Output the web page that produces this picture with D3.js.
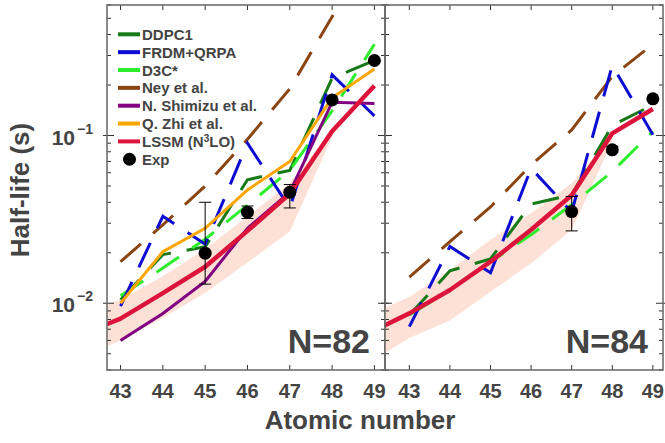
<!DOCTYPE html>
<html>
<head>
<meta charset="utf-8">
<script src="https://cdn.jsdelivr.net/npm/d3@7"></script>
<style>
  body { margin: 0; background: #fff; }
  text { font-family: "Liberation Sans", Arial, Helvetica, sans-serif; font-weight: bold; fill: #444; }
</style>
</head>
<body>
<div id="svg-container"></div>
<script>
//the data
var atomicNumbers = [43, 44, 45, 46, 47, 48, 49];
var lssmNumbers = [42, 43, 44, 45, 46, 47, 48, 49];
var bandNumbers = [42, 43, 44, 45, 46, 47, 48];
var xTickValues = [43, 44, 45, 46, 47, 48, 49];
var yTickValues = [0.01, 0.1];
var yTickExponents = ["\u22122", "\u22121"];
var panelLabels = ["N=82", "N=84"];
var legendNames = ["DDPC1", "FRDM+QRPA", "D3C*", "Ney et al.", "N. Shimizu et al.", "Q. Zhi et al.", "LSSM (N", "Exp"];

//N=82
var ddpc1_82 = [0.0105, 0.0195, 0.0217, 0.0545, 0.062, 0.22, 0.28];
var frdm_82 = [0.0096, 0.033, 0.0225, 0.09, 0.037, 0.23, 0.131];
var d3c_82 = [0.0111, 0.0162, 0.0241, 0.0385, 0.062, 0.14, 0.35];
var ney_82 = [0.0177, 0.0293, 0.05, 0.095, 0.19, 0.51, 1.3];
var shimizu_82 = [0.006, 0.0087, 0.0135, 0.028, 0.046, 0.158, 0.155];
var zhi_82 = [0.01, 0.0203, 0.028, 0.0474, 0.07, 0.168, 0.249];
var lssm_82 = [0.0064, 0.0081, 0.0115, 0.0165, 0.027, 0.045, 0.106, 0.198];
var bandLow_82 = [0.0047, 0.006, 0.0082, 0.0115, 0.0175, 0.0268, 0.098];
var bandHigh_82 = [0.0088, 0.0105, 0.0145, 0.021, 0.033, 0.052, 0.108];
var expZ_82 = [45, 46, 47, 48, 49];
var exp_82 = [0.0199, 0.0349, 0.0459, 0.163, 0.28];
var expLow_82 = [0.013, 0.032, 0.037, 0.163, 0.28];
var expHigh_82 = [0.04, 0.038, 0.051, 0.163, 0.28];

//N=84
var ddpc1_84 = [0.0085, 0.0156, 0.0184, 0.039, 0.0443, 0.115, 0.152];
var frdm_84 = [0.00725, 0.0218, 0.0152, 0.0638, 0.035, 0.262, 0.101];
var d3c_84 = [0.0085, 0.012, 0.0177, 0.0256, 0.0387, 0.061, 0.106];
var ney_84 = [0.0143, 0.0233, 0.0375, 0.0668, 0.108, 0.225, 0.35];
var lssm_84 = [0.00664, 0.0087, 0.012, 0.0177, 0.0274, 0.044, 0.103, 0.144];
var bandLow_84 = [0.0044, 0.0062, 0.0079, 0.0117, 0.0173, 0.0274, 0.092];
var bandHigh_84 = [0.0085, 0.0109, 0.0158, 0.0239, 0.0344, 0.052, 0.1];
var expZ_84 = [47, 48, 49];
var exp_84 = [0.0352, 0.0822, 0.1655];
var expLow_84 = [0.027, 0.079, 0.1655];
var expHigh_84 = [0.0433, 0.086, 0.1655];

//styles
var colors = {
  ddpc1: "#177a17",
  frdm: "#0c0cd2",
  d3c: "#2cee2c",
  ney: "#8b4513",
  shimizu: "#800080",
  zhi: "#ffa500",
  lssm: "#dc143c",
  band: "#fde0d6"
};
var dash = "27,16";

var svg = d3
  .select("#svg-container")
  .append("svg")
  .attr("width", 665)
  .attr("height", 443);

var plotTop = 5,
  plotBottom = 370;

var y = d3.scaleLog().domain([0.004, 0.6]).range([plotBottom, plotTop]);

var xLeft = d3.scaleLinear().domain([42.68, 49.25]).range([107, 385]);
var xRight = d3.scaleLinear().domain([42.4, 49.25]).range([385, 663]);

var panels = [
  {
    x: xLeft,
    label: panelLabels[0],
    band: [bandLow_82, bandHigh_82],
    lines: [
      { v: ney_82, c: colors.ney, w: 3, d: dash },
      { v: ddpc1_82, c: colors.ddpc1, w: 3, d: dash },
      { v: d3c_82, c: colors.d3c, w: 3, d: dash },
      { v: frdm_82, c: colors.frdm, w: 3, d: dash },
      { v: shimizu_82, c: colors.shimizu, w: 3, d: null },
      { v: zhi_82, c: colors.zhi, w: 3, d: null }
    ],
    lssm: lssm_82,
    exp: [expZ_82, exp_82, expLow_82, expHigh_82]
  },
  {
    x: xRight,
    label: panelLabels[1],
    band: [bandLow_84, bandHigh_84],
    lines: [
      { v: ney_84, c: colors.ney, w: 3, d: dash },
      { v: ddpc1_84, c: colors.ddpc1, w: 3, d: dash },
      { v: d3c_84, c: colors.d3c, w: 3, d: dash },
      { v: frdm_84, c: colors.frdm, w: 3, d: dash }
    ],
    lssm: lssm_84,
    exp: [expZ_84, exp_84, expLow_84, expHigh_84]
  }
];

//minor ticks of the log axis
var minorTicks = y.ticks().filter((t) => yTickValues.indexOf(t) < 0);

panels.forEach(function (p, i) {
  var x = p.x;
  var x0 = x.range()[0],
    x1 = x.range()[1];

  var clipId = "clip" + i;
  svg
    .append("clipPath")
    .attr("id", clipId)
    .append("rect")
    .attr("x", x0)
    .attr("y", plotTop)
    .attr("width", x1 - x0)
    .attr("height", plotBottom - plotTop);

  var g = svg.append("g").attr("clip-path", "url(#" + clipId + ")");

  //the uncertainty band of LSSM
  g.append("path")
    .datum(d3.zip(bandNumbers, p.band[0], p.band[1]))
    .attr("fill", colors.band)
    .attr(
      "d",
      d3
        .area()
        .x((d) => x(d[0]))
        .y0((d) => y(d[1]))
        .y1((d) => y(d[2]))
    );

  var line = d3
    .line()
    .x((d) => x(d[0]))
    .y((d) => y(d[1]));

  p.lines.forEach(function (s) {
    g.append("path")
      .datum(d3.zip(atomicNumbers, s.v))
      .attr("fill", "none")
      .attr("stroke", s.c)
      .attr("stroke-width", s.w)
      .attr("stroke-dasharray", s.d)
      .attr("d", line);
  });

  g.append("path")
    .datum(d3.zip(lssmNumbers, p.lssm))
    .attr("fill", "none")
    .attr("stroke", colors.lssm)
    .attr("stroke-width", 4.5)
    .attr("stroke-linejoin", "round")
    .attr("d", line);

  //experiment with error bars
  var exp = d3.zip(p.exp[0], p.exp[1], p.exp[2], p.exp[3]);
  var bars = g
    .selectAll(".err")
    .data(exp.filter((d) => d[2] < d[3]))
    .enter()
    .append("g")
    .attr("stroke", "#000")
    .attr("stroke-width", 1);
  bars
    .append("line")
    .attr("x1", (d) => x(d[0]))
    .attr("x2", (d) => x(d[0]))
    .attr("y1", (d) => y(d[2]))
    .attr("y2", (d) => y(d[3]));
  bars
    .append("line")
    .attr("x1", (d) => x(d[0]) - 6)
    .attr("x2", (d) => x(d[0]) + 6)
    .attr("y1", (d) => y(d[2]))
    .attr("y2", (d) => y(d[2]));
  bars
    .append("line")
    .attr("x1", (d) => x(d[0]) - 6)
    .attr("x2", (d) => x(d[0]) + 6)
    .attr("y1", (d) => y(d[3]))
    .attr("y2", (d) => y(d[3]));

  g.selectAll("circle")
    .data(exp)
    .enter()
    .append("circle")
    .attr("cx", (d) => x(d[0]))
    .attr("cy", (d) => y(d[1]))
    .attr("r", 6.5)
    .attr("fill", "#000");

  //frame and ticks
  var ticks = svg.append("g").attr("stroke", "#333").attr("stroke-width", 1);
  xTickValues.forEach(function (t) {
    ticks.append("line").attr("x1", x(t)).attr("x2", x(t)).attr("y1", plotBottom).attr("y2", plotBottom - 5);
    ticks.append("line").attr("x1", x(t)).attr("x2", x(t)).attr("y1", plotTop).attr("y2", plotTop + 5);
  });
  minorTicks.forEach(function (t) {
    ticks.append("line").attr("x1", x0).attr("x2", x0 + 4).attr("y1", y(t)).attr("y2", y(t));
    ticks.append("line").attr("x1", x1).attr("x2", x1 - 4).attr("y1", y(t)).attr("y2", y(t));
  });
  yTickValues.forEach(function (t) {
    ticks.append("line").attr("x1", x0 - 4).attr("x2", x0 + 7).attr("y1", y(t)).attr("y2", y(t));
    ticks.append("line").attr("x1", x1 + 4).attr("x2", x1 - 7).attr("y1", y(t)).attr("y2", y(t));
  });

  svg
    .append("rect")
    .attr("x", x0)
    .attr("y", plotTop)
    .attr("width", x1 - x0)
    .attr("height", plotBottom - plotTop)
    .attr("fill", "none")
    .attr("stroke", "#666")
    .attr("stroke-width", 1.5);

  //x tick labels
  svg
    .append("g")
    .selectAll("text")
    .data(xTickValues)
    .enter()
    .append("text")
    .attr("x", (d) => x(d))
    .attr("y", 398)
    .attr("text-anchor", "middle")
    .attr("font-size", 20)
    .text((d) => d);

  svg
    .append("text")
    .attr("x", x1 - 15)
    .attr("y", 353)
    .attr("text-anchor", "end")
    .attr("font-size", 34)
    .attr("fill", "#4a4a4a")
    .text(p.label);
});

//y tick labels
yTickValues.forEach(function (t, i) {
  var lab = svg
    .append("text")
    .attr("x", 93)
    .attr("y", y(t) + 9)
    .attr("text-anchor", "end")
    .attr("font-size", 21);
  lab.append("tspan").text("10");
  lab
    .append("tspan")
    .attr("dx", 2)
    .attr("dy", -11)
    .attr("font-size", 14)
    .text(yTickExponents[i]);
});

//axis titles
svg
  .append("text")
  .attr("x", 360)
  .attr("y", 429)
  .attr("text-anchor", "middle")
  .attr("font-size", 26)
  .text("Atomic number");

svg
  .append("text")
  .attr("transform", "translate(29,190) rotate(-90)")
  .attr("text-anchor", "middle")
  .attr("font-size", 26)
  .text("Half-life (s)");

//the legend
var legendColors = [colors.ddpc1, colors.frdm, colors.d3c, colors.ney, colors.shimizu, colors.zhi, colors.lssm];
var legend = svg.append("g");
legendNames.forEach(function (name, i) {
  var ly = 34.3 + i * 17.85;
  if (i < 7) {
    legend
      .append("line")
      .attr("x1", 118)
      .attr("x2", 140)
      .attr("y1", ly)
      .attr("y2", ly)
      .attr("stroke", legendColors[i])
      .attr("stroke-width", 4);
  } else {
    legend.append("circle").attr("cx", 129.5).attr("cy", ly).attr("r", 6.5).attr("fill", "#000");
  }
  var t = legend
    .append("text")
    .attr("x", 142)
    .attr("y", ly + 5.5)
    .attr("font-size", 15)
    .text(name);
  if (i == 6) {
    t.append("tspan").attr("dy", -5).attr("font-size", 10).text("3");
    t.append("tspan").attr("dy", 5).text("LO)");
  }
});
</script>
</body>
</html>
